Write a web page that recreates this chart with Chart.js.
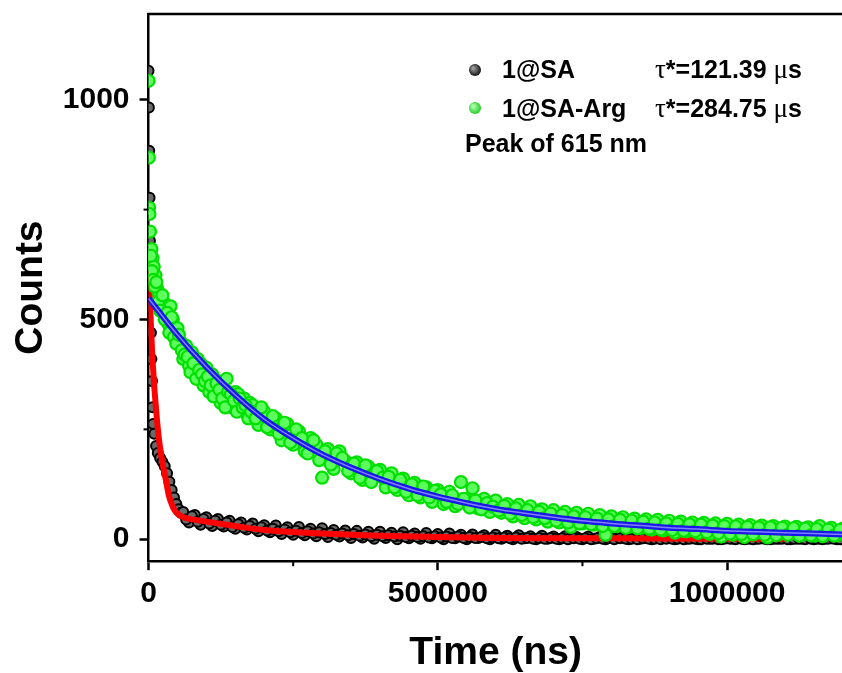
<!DOCTYPE html>
<html>
<head>
<meta charset="utf-8">
<script src="https://cdn.jsdelivr.net/npm/chart.js@4"></script>
<style>
  html, body { margin: 0; padding: 0; background: #fff; overflow: hidden; }
</style>
</head>
<body>
<canvas id="decay" width="851" height="673"></canvas>
<script>
const sansFont = "'Liberation Sans', Arial, sans-serif";
const serifFont = "'Liberation Serif', 'Times New Roman', serif";

// 1@SA measured decay (time in microseconds, counts)
const saTime = [0, 0.6, 1.2, 1.8, 2.4, 3, 3.6, 4.2, 5, 6, 7, 8, 10, 13, 16, 20, 24, 28, 32, 36, 40, 44, 48, 52, 56,
  60, 70, 80, 90, 100, 110, 120, 130, 140, 150, 160, 170, 180, 190, 200, 210, 220, 230, 240, 250, 260, 270, 280, 290,
  300, 310, 320, 330, 340, 350, 360, 370, 380, 390, 400, 410, 420, 430, 440, 450, 460, 470, 480, 490,
  500, 510, 520, 530, 540, 550, 560, 570, 580, 590, 600, 610, 620, 630, 640, 650, 660, 670, 680, 690,
  700, 710, 720, 730, 740, 750, 760, 770, 780, 790, 800, 810, 820, 830, 840, 850, 860, 870, 880, 890,
  900, 910, 920, 930, 940, 950, 960, 970, 980, 990, 1000, 1010, 1020, 1030, 1040, 1050, 1060, 1070, 1080, 1090,
  1100, 1110, 1120, 1130, 1140, 1150, 1160, 1170, 1180, 1190, 1200,
  65, 75, 85, 95, 105, 115, 125, 135, 145, 155,
  165, 175, 185, 195, 205, 215, 225, 235, 245, 255,
  265, 275, 285, 295, 305, 315, 325, 335, 345, 355,
  365, 375, 385, 395, 405, 415, 425, 435, 445, 455,
  465, 475, 485, 495, 505, 515, 525, 535, 545, 555,
  565, 575, 585, 595, 605, 615, 625, 635, 645, 655,
  665, 675, 685, 695, 705, 715, 725, 735, 745, 755,
  765, 775, 785, 795, 805, 815, 825, 835, 845, 855,
  865, 875, 885, 895, 905, 915, 925, 935, 945, 955,
  965, 975, 985, 995, 1005, 1015, 1025, 1035, 1045, 1055,
  1065, 1075, 1085, 1095, 1105, 1115, 1125, 1135, 1145, 1155,
  1165, 1175, 1185, 1195];
const saCounts = [1066, 982, 884, 777, 679, 600, 530, 470, 410, 360, 300, 262, 240, 212, 196, 185, 176, 166, 150, 131, 112, 95, 80, 68, 60,
  62, 38, 55, 33, 50, 30, 46, 29, 42, 24, 38, 22, 36, 18, 32, 16, 31, 12, 27, 10, 28, 9, 24, 7,
  25, 5, 21, 6, 20, 3, 19, 4, 17, 1, 17, 3, 15, 0, 16, 2, 13, 1, 14, 2,
  12, 0, 13, 2, 10, 0, 11, 3, 9, 0, 10, 1, 8, 0, 9, 2, 7, 0, 8, 1,
  6, 0, 7, 2, 5, 0, 6, 1, 5, 0, 4, 2, 5, 0, 4, 1, 3, 0, 4, 2,
  3, 0, 3, 1, 2, 0, 3, 1, 2, 0, 2, 1, 3, 0, 1, 1, 2, 0, 1, 1,
  2, 0, 1, 1, 2, 0, 1, 1, 2, 0, 1,
  45, 52, 40, 46, 36, 42, 33, 38, 28, 34,
  26, 30, 24, 27, 20, 24, 18, 22, 16, 19,
  14, 18, 13, 16, 12, 14, 10, 13, 9, 12,
  8, 11, 7, 10, 7, 9, 6, 8, 5, 8,
  5, 7, 4, 7, 4, 6, 3, 6, 3, 5,
  3, 5, 2, 4, 2, 4, 2, 4, 1, 3,
  1, 3, 1, 3, 1, 2, 0, 2, 1, 2,
  0, 2, 1, 2, 0, 2, 1, 1, 0, 2,
  1, 1, 0, 1, 1, 1, 0, 1, 1, 0,
  1, 1, 0, 1, 1, 0, 1, 1, 0, 1,
  1, 0, 1, 1, 0, 1, 1, 0, 1, 1,
  0, 1, 1, 0];

// 1@SA-Arg measured decay
const argTime = [0, 0.5, 1, 1.5, 2, 3, 5, 7, 9, 12, 15, 18, 22, 26, 30, 34, 38, 42, 46, 50, 55, 60, 65, 70, 75, 80, 85, 90, 95,
  100, 105, 110, 115, 120, 125, 130, 135, 140, 145, 150, 155, 160, 165, 170, 175,
  180, 190, 200, 210, 220, 230, 240, 250, 260, 270, 280, 290, 300, 310, 320, 330, 340, 350, 360, 370, 380, 390,
  400, 410, 420, 430, 440, 450, 460, 470, 480, 490, 500, 510, 520, 530, 540, 550, 560, 570, 580, 590,
  600, 610, 620, 630, 640, 650, 660, 670, 680, 690, 700, 710, 720, 730, 740, 750, 760, 770, 780, 790,
  800, 810, 820, 830, 840, 850, 860, 870, 880, 890, 900, 910, 920, 930, 940, 950, 960, 970, 980, 990,
  1000, 1010, 1020, 1030, 1040, 1050, 1060, 1070, 1080, 1090, 1100, 1110, 1120, 1130, 1140, 1150, 1160, 1170, 1180, 1190, 1200,
  2.5, 4, 6, 8, 10.5, 13.5, 16.5, 20, 24, 28, 32, 36, 40, 44, 48, 52.5, 57.5, 62.5, 67.5, 72.5,
  77.5, 82.5, 87.5, 92.5, 97.5, 102.5, 107.5, 112.5, 117.5, 122.5, 127.5, 132.5, 137.5, 142.5, 147.5, 152.5,
  157.5, 162.5, 167.5, 172.5, 177.5,
  185, 195, 205, 215, 225, 235, 245, 255, 265, 275,
  285, 295, 305, 315, 325, 335, 345, 355, 365, 375,
  385, 395, 405, 415, 425, 435, 445, 455, 465, 475,
  485, 495, 505, 515, 525, 535, 545, 555, 565, 575,
  585, 595, 605, 615, 625, 635, 645, 655, 665, 675,
  685, 695, 705, 715, 725, 735, 745, 755, 765, 775,
  785, 795, 805, 815, 825, 835, 845, 855, 865, 875,
  885, 895, 905, 915, 925, 935, 945, 955, 965, 975,
  985, 995, 1005, 1015, 1025, 1035, 1045, 1055, 1065, 1075,
  1085, 1095, 1105, 1115, 1125, 1135, 1145, 1155, 1165, 1175,
  1185, 1195];
const argCounts = [1043, 868, 754, 740, 656, 630, 660, 640, 620, 600, 570, 560, 545, 540, 525, 490, 530, 500, 470, 480, 450, 410, 440, 395, 425, 380, 410, 400, 350,
  390, 335, 375, 340, 360, 310, 345, 365, 320, 300, 335, 330, 295, 320, 285, 310,
  305, 260, 290, 250, 275, 225, 262, 215, 245, 200, 230, 215, 140, 205, 160, 200, 178, 150, 175, 135, 165, 145,
  158, 118, 150, 112, 138, 100, 128, 95, 118, 85, 112, 80, 108, 75, 130, 90, 116, 70, 92, 62,
  88, 60, 80, 52, 78, 48, 75, 45, 68, 40, 66, 38, 62, 28, 60, 36, 58, 33, 55, 10,
  52, 30, 50, 28, 47, 26, 45, 22, 44, 20, 42, 15, 40, 18, 38, 14, 37, 12, 36, 6,
  35, 10, 33, 5, 32, 15, 31, 4, 30, 12, 29, 14, 28, 10, 27, 8, 30, 12, 26, 9, 24,
  700, 645, 610, 590, 575, 585, 540, 520, 555, 500, 515, 470, 505, 460, 445, 465, 430, 420, 415, 380,
  400, 365, 385, 375, 360, 370, 350, 325, 355, 340, 320, 300, 335, 330, 315, 290,
  320, 300, 305, 275, 290,
  275, 300, 255, 280, 240, 265, 220, 250, 230, 195,
  225, 180, 200, 170, 195, 185, 155, 172, 140, 168,
  130, 155, 140, 142, 118, 135, 108, 125, 100, 120,
  95, 110, 102, 85, 100, 80, 92, 72, 88, 68,
  82, 74, 65, 76, 58, 70, 55, 66, 50, 62,
  48, 58, 42, 55, 38, 52, 36, 50, 34, 47,
  30, 45, 30, 44, 26, 42, 25, 40, 24, 38,
  22, 36, 21, 35, 19, 34, 18, 33, 16, 31,
  14, 30, 13, 29, 12, 28, 11, 27, 10, 27,
  9, 26, 10, 25, 8, 24, 9, 23, 7, 22,
  8, 21];

// fitted curves
const saFitTime = [0, 2, 4, 6, 8, 10, 12, 15, 18, 22, 26, 30, 35, 40, 45, 50, 60, 80, 100, 150, 200, 300, 400, 500, 600, 800, 1000, 1100];
const saFitCounts = [640, 560, 490, 430, 385, 345, 312, 265, 228, 190, 160, 135, 100, 80, 66, 58, 50, 44, 40, 30, 21, 13, 8, 5, 3, 2, 1, 1];
const argFitTime = [0, 50, 100, 150, 200, 250, 300, 350, 400, 450, 500, 550, 600, 650, 700, 750, 800, 850, 900, 950, 1000, 1050, 1100, 1150, 1200];
const argFitCounts = [548, 465, 392, 328, 273, 230, 193, 163, 137, 115, 97, 82, 69, 59, 50, 42, 36, 31, 26, 23, 19, 17, 15, 13, 11];

// axis ticks
const xTickValues = [0, 500000, 1000000];
const yTickValues = [0, 500, 1000];
const xMinorTicks = [250000, 750000];
const yMinorTicks = [250, 750];

// legend text
const legendNames = ['1@SA', '1@SA-Arg'];
const legendLifetimes = ['121.39', '284.75'];
const peakNote = 'Peak of 615 nm';

const toPoints = (times, counts) => times.map((t, i) => ({ x: t * 1000, y: counts[i] }));

// top frame line + short minor ticks
const framePlugin = {
  id: 'frame',
  afterDraw(chart) {
    const ctx = chart.ctx;
    const area = chart.chartArea;
    const xs = chart.scales.x, ys = chart.scales.y;
    ctx.save();
    ctx.strokeStyle = '#000';
    ctx.lineWidth = 2.5;
    ctx.beginPath();
    ctx.moveTo(area.left - 1, area.top);
    ctx.lineTo(area.right, area.top);
    ctx.stroke();
    ctx.lineWidth = 2;
    xMinorTicks.forEach(v => {
      const px = xs.getPixelForValue(v);
      ctx.beginPath();
      ctx.moveTo(px, area.bottom);
      ctx.lineTo(px, area.bottom + 5);
      ctx.stroke();
    });
    yMinorTicks.forEach(v => {
      const py = ys.getPixelForValue(v);
      ctx.beginPath();
      ctx.moveTo(area.left, py);
      ctx.lineTo(area.left - 5, py);
      ctx.stroke();
    });
    ctx.restore();
  }
};

function drawBall(ctx, x, y, dark, light) {
  const g = ctx.createRadialGradient(x - 2, y - 2, 1, x, y, 7);
  g.addColorStop(0, light);
  g.addColorStop(1, dark);
  ctx.fillStyle = g;
  ctx.beginPath();
  ctx.arc(x, y, 6, 0, Math.PI * 2);
  ctx.fill();
}

function drawLifetime(ctx, x, y, value) {
  const pieces = [
    ['τ', '27px ' + serifFont],
    ['*=' + value + ' ', 'bold 25px ' + sansFont],
    ['μ', '27px ' + serifFont],
    ['s', 'bold 25px ' + sansFont]
  ];
  pieces.forEach(([txt, font]) => {
    ctx.font = font;
    ctx.fillText(txt, x, y);
    x += ctx.measureText(txt).width;
  });
}

const legendPlugin = {
  id: 'legendText',
  afterDraw(chart) {
    const ctx = chart.ctx;
    ctx.save();
    drawBall(ctx, 475, 70, '#000', '#9a9a9a');
    drawBall(ctx, 475, 108, '#10c810', '#b0ffb0');
    ctx.fillStyle = '#000';
    ctx.textBaseline = 'alphabetic';
    ctx.font = 'bold 25px ' + sansFont;
    ctx.fillText(legendNames[0], 502, 78);
    ctx.fillText(legendNames[1], 502, 117);
    drawLifetime(ctx, 655, 78, legendLifetimes[0]);
    drawLifetime(ctx, 655, 117, legendLifetimes[1]);
    ctx.font = 'bold 25px ' + sansFont;
    ctx.fillText(peakNote, 465, 152);
    ctx.restore();
  }
};

const ctx = document.getElementById('decay').getContext('2d');
const decayChart = new Chart(ctx, {
  type: 'scatter',
  data: {
    datasets: [
      {
        label: '1@SA-Arg fit highlight',
        data: toPoints(argFitTime, argFitCounts),
        showLine: true,
        borderColor: '#7f7fff',
        borderWidth: 1.5,
        pointRadius: 0,
        cubicInterpolationMode: 'monotone',
        order: 0
      },
      {
        label: '1@SA-Arg fit',
        data: toPoints(argFitTime, argFitCounts),
        showLine: true,
        borderColor: '#1818e8',
        borderWidth: 6,
        pointRadius: 0,
        cubicInterpolationMode: 'monotone',
        order: 1
      },
      {
        label: legendNames[1],
        data: toPoints(argTime, argCounts),
        pointRadius: 6,
        backgroundColor: '#5cff5c',
        borderColor: '#00e000',
        borderWidth: 2.2,
        order: 2
      },
      {
        label: '1@SA fit',
        data: toPoints(saFitTime, saFitCounts),
        showLine: true,
        borderColor: '#ff0000',
        borderWidth: 6,
        pointRadius: 0,
        cubicInterpolationMode: 'monotone',
        order: 3
      },
      {
        label: legendNames[0],
        data: toPoints(saTime, saCounts),
        pointRadius: 5,
        backgroundColor: '#6a6a6a',
        borderColor: '#000',
        borderWidth: 2,
        order: 4
      }
    ]
  },
  options: {
    responsive: false,
    animation: false,
    layout: { padding: { top: 14, right: 0, bottom: 0, left: 8 } },
    plugins: {
      legend: { display: false },
      tooltip: { enabled: false }
    },
    scales: {
      x: {
        type: 'linear',
        min: 0,
        max: 1200000,
        afterBuildTicks: scale => { scale.ticks = xTickValues.map(v => ({ value: v })); },
        afterFit: scale => { scale.paddingLeft = 0; scale.paddingRight = 0; },
        border: { display: true, color: '#000', width: 2.5 },
        grid: { display: true, drawOnChartArea: false, drawTicks: true, tickLength: 9, tickWidth: 2.5, tickColor: '#000' },
        ticks: {
          maxRotation: 0,
          padding: 6,
          color: '#000',
          font: { family: sansFont, size: 30, weight: 'bold' },
          callback: v => String(v)
        },
        title: {
          display: true,
          text: 'Time (ns)',
          color: '#000',
          padding: { top: 12, bottom: -4 },
          font: { family: sansFont, size: 39, weight: 'bold' }
        }
      },
      y: {
        min: -50,
        max: 1195,
        afterBuildTicks: scale => { scale.ticks = yTickValues.map(v => ({ value: v })); },
        afterFit: scale => { scale.paddingTop = 0; scale.paddingBottom = 0; },
        border: { display: true, color: '#000', width: 2.5 },
        grid: { display: true, drawOnChartArea: false, drawTicks: true, tickLength: 9, tickWidth: 2.5, tickColor: '#000' },
        ticks: {
          padding: 10,
          color: '#000',
          font: { family: sansFont, size: 30, weight: 'bold' },
          callback: v => String(v)
        },
        title: {
          display: true,
          text: 'Counts',
          color: '#000',
          padding: { top: 0, bottom: -2 },
          font: { family: sansFont, size: 39, weight: 'bold' }
        }
      }
    }
  },
  plugins: [framePlugin, legendPlugin]
});
</script>
</body>
</html>
